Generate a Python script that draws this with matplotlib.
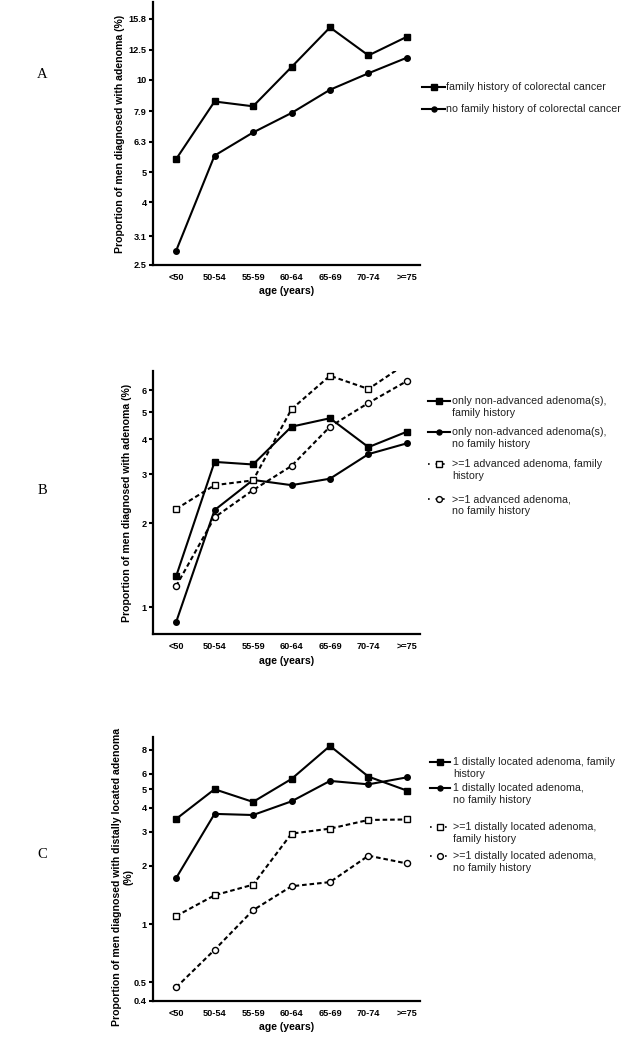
import matplotlib
matplotlib.use("Agg")
import matplotlib.pyplot as plt
from matplotlib.lines import Line2D
from matplotlib.ticker import NullLocator

plt.rcParams['font.family'] = ['Liberation Sans', 'DejaVu Sans']

# data (proportions in %)
ages = ['<50', '50-54', '55-59', '60-64', '65-69', '70-74', '>=75']

a_fam = [5.52, 8.5, 8.2, 11.0, 14.8, 12.0, 13.8]
a_nofam = [2.78, 5.67, 6.74, 7.8, 9.28, 10.5, 11.8]

b_nonadv_fam = [1.29, 3.32, 3.25, 4.44, 4.76, 3.75, 4.26]
b_nonadv_nofam = [0.884, 2.23, 2.86, 2.74, 2.89, 3.54, 3.87]
b_adv_fam = [2.25, 2.74, 2.85, 5.13, 6.76, 6.06, 7.5]
b_adv_nofam = [1.19, 2.10, 2.63, 3.21, 4.44, 5.4, 6.47]

c_one_fam = [3.50, 4.99, 4.29, 5.64, 8.36, 5.80, 4.91]
c_one_nofam = [1.73, 3.72, 3.67, 4.32, 5.51, 5.29, 5.75]
c_multi_fam = [1.10, 1.41, 1.60, 2.94, 3.12, 3.46, 3.48]
c_multi_nofam = [0.47, 0.736, 1.18, 1.57, 1.65, 2.26, 2.06]

a_ticks = [2.5, 3.1, 4, 5, 6.3, 7.9, 10, 12.5, 15.8]
b_ticks = [1, 2, 3, 4, 5, 6]
c_ticks = [0.4, 0.5, 1, 2, 3, 4, 5, 6, 8]

W, H = 623, 1050
fig = plt.figure(figsize=(W / 100, H / 100), dpi=100)


def add_axes_px(left, top, right, bottom):
    return fig.add_axes([left / W, 1 - bottom / H, (right - left) / W, (bottom - top) / H])


x = list(range(len(ages)))

# line styles
solid_sq = dict(color='k', lw=1.5, marker='s', ms=4.6, mfc='k', mec='k')
solid_ci = dict(color='k', lw=1.5, marker='o', ms=4.0, mfc='k', mec='k')
dash_sq = dict(color='k', lw=1.5, ls=(0, (2.2, 1.4)), marker='s', ms=4.4, mfc='white', mec='k', mew=1.0)
dash_ci = dict(color='k', lw=1.5, ls=(0, (2.2, 1.4)), marker='o', ms=4.4, mfc='white', mec='k', mew=1.0)


def style_axes(ax, ylo, yhi, ticks, ylabel, label_x, label_y=0.5):
    ax.set_yscale('log')
    ax.set_ylim(ylo, yhi)
    ax.set_xlim(-0.6, 6.34)
    ax.set_yticks(ticks)
    ax.set_yticklabels([('%g' % t) for t in ticks])
    ax.yaxis.set_minor_locator(NullLocator())
    ax.set_xticks(x)
    ax.set_xticklabels(ages)
    for s in ['top', 'right']:
        ax.spines[s].set_visible(False)
    for s in ['left', 'bottom']:
        ax.spines[s].set_linewidth(1.6)
    ax.tick_params(axis='y', direction='out', length=3, width=1.5, labelsize=6.6, pad=1.5)
    ax.tick_params(axis='x', length=0, pad=6, labelsize=6.6)
    for lbl in ax.get_xticklabels() + ax.get_yticklabels():
        lbl.set_fontweight('bold')
    ax.set_xlabel('age (years)', fontsize=7.6, fontweight='bold', labelpad=3)
    ax.set_ylabel(ylabel, fontsize=7.6, fontweight='bold')
    ax.yaxis.set_label_coords(label_x, label_y)


def legend_entry(hx0, hx1, y, kind, lines, tx, lh=12.3):
    fy = 1 - y / H
    if kind in ('sq', 'ci'):
        fig.add_artist(Line2D([hx0 / W, hx1 / W], [fy, fy], transform=fig.transFigure,
                              color='k', lw=1.5))
        fig.add_artist(Line2D([(hx0 + hx1) / 2 / W], [fy], transform=fig.transFigure,
                              color='k', marker='s' if kind == 'sq' else 'o',
                              ms=4.0 if kind == 'sq' else 3.6, mfc='k', mec='k', lw=0))
    else:
        fig.add_artist(Line2D([hx0 / W, hx1 / W], [fy, fy], transform=fig.transFigure,
                              color='k', lw=1.2, ls=(0, (1, 3.5))))
        fig.add_artist(Line2D([(hx0 + hx1) / 2 / W], [fy], transform=fig.transFigure,
                              color='k', marker='s' if kind == 'osq' else 'o',
                              ms=4.2, mfc='white', mec='k', mew=1.0, lw=0))
    for i, t in enumerate(lines):
        fig.text(tx / W, 1 - (y + i * lh) / H, t, fontsize=7.7, color='#222222',
                 ha='left', va='center')


# panel A
axA = add_axes_px(153, 2, 420, 265)
axA.plot(x, a_fam, **solid_sq)
axA.plot(x, a_nofam, **solid_ci)
style_axes(axA, 2.5, 17.9, a_ticks, 'Proportion of men diagnosed with adenoma (%)', -0.105)

legend_entry(422, 445, 87, 'sq', ['family history of colorectal cancer'], 446)
legend_entry(422, 445, 109, 'ci', ['no family history of colorectal cancer'], 446)

# panel B
axB = add_axes_px(153, 371, 420, 634)
axB.plot(x, b_nonadv_fam, **solid_sq)
axB.plot(x, b_nonadv_nofam, **solid_ci)
axB.plot(x, b_adv_fam, **dash_sq)
axB.plot(x, b_adv_nofam, **dash_ci)
style_axes(axB, 0.802, 7.03, b_ticks, 'Proportion of men diagnosed with adenoma (%)', -0.078)

legend_entry(428, 450, 401, 'sq', ['only non-advanced adenoma(s),', 'family history'], 452, 12)
legend_entry(428, 450, 432, 'ci', ['only non-advanced adenoma(s),', 'no family history'], 452, 12)
legend_entry(428, 450, 464, 'osq', ['>=1 advanced adenoma, family', 'history'], 452, 12)
legend_entry(428, 450, 499, 'oci', ['>=1 advanced adenoma,', 'no family history'], 452, 12)

# panel C
axC = add_axes_px(153, 737, 420, 1001)
axC.plot(x, c_one_fam, **solid_sq)
axC.plot(x, c_one_nofam, **solid_ci)
axC.plot(x, c_multi_fam, **dash_sq)
axC.plot(x, c_multi_nofam, **dash_ci)
style_axes(axC, 0.4, 9.3, c_ticks,
           'Proportion of men diagnosed with distally located adenoma\n(%)', -0.072, 0.47)
axC.yaxis.label.set_multialignment('center')

legend_entry(430, 450, 762, 'sq', ['1 distally located adenoma, family', 'history'], 453)
legend_entry(430, 450, 788, 'ci', ['1 distally located adenoma,', 'no family history'], 453)
legend_entry(430, 450, 827, 'osq', ['>=1 distally located adenoma,', 'family history'], 453)
legend_entry(430, 450, 856, 'oci', ['>=1 distally located adenoma,', 'no family history'], 453)

# panel letters
for letter, yy in [('A', 75), ('B', 490), ('C', 855)]:
    fig.text(42 / W, 1 - yy / H, letter, fontsize=10.5, family='Liberation Serif',
             ha='center', va='center')

fig.savefig('out.png', dpi=100)
